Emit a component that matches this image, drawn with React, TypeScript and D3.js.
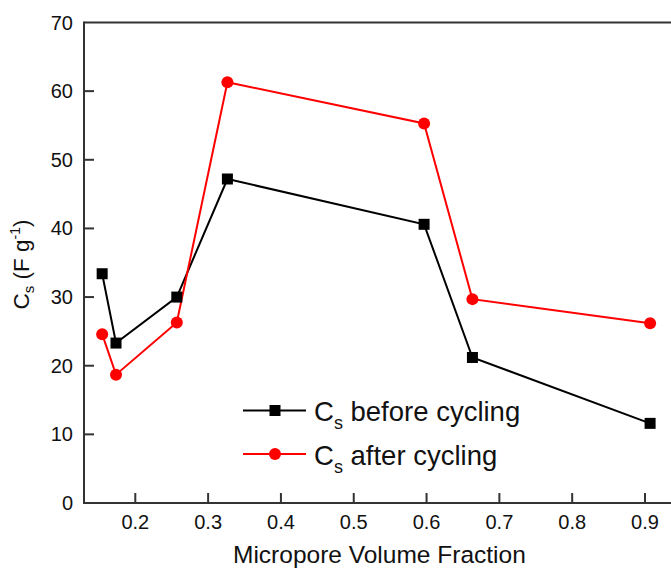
import React from "react";
import * as d3 from "d3";

// Micropore volume fraction of each sample
const fraction = [0.1545, 0.1735, 0.257, 0.3265, 0.5966, 0.663, 0.907];
// Specific capacitance (F g^-1)
const before = [33.4, 23.3, 30.0, 47.2, 40.6, 21.2, 11.6];
const after = [24.6, 18.7, 26.3, 61.3, 55.3, 29.7, 26.2];

const xTicks = [0.2, 0.3, 0.4, 0.5, 0.6, 0.7, 0.8, 0.9];
const yTicks = [0, 10, 20, 30, 40, 50, 60, 70];

const W = 671;
const H = 570;
const FONT = "'Liberation Sans', Arial, Helvetica, sans-serif";

export default function App() {
  const left = 84;
  const top = 22.5;
  const bottom = 503;
  const x = d3.scaleLinear().domain([0.2, 0.9]).range([135.3, 645]);
  const y = d3.scaleLinear().domain([0, 70]).range([bottom, top]);
  const xEnd = x(0.95);

  const line = d3
    .line<number>()
    .x((_, i) => x(fraction[i]))
    .y((d) => y(d));

  const axisColor = "#333";

  return (
    <svg
      width={W}
      height={H}
      style={{ position: "absolute", left: 0, top: 0, background: "#fff" }}
      fontFamily={FONT}
    >
      {/* frame */}
      <line x1={left} y1={top} x2={xEnd} y2={top} stroke={axisColor} strokeWidth={2} />
      <line x1={left} y1={top - 1} x2={left} y2={bottom + 1} stroke={axisColor} strokeWidth={2} />
      <line x1={left - 1} y1={bottom} x2={xEnd} y2={bottom} stroke={axisColor} strokeWidth={2} />

      {/* x ticks */}
      {xTicks.map((t) => (
        <g key={"x" + t}>
          <line x1={x(t)} x2={x(t)} y1={bottom} y2={bottom - 10} stroke={axisColor} strokeWidth={2} />
          <text x={x(t)} y={529} fontSize={20} textAnchor="middle" fill="#111">
            {t.toFixed(1)}
          </text>
        </g>
      ))}

      {/* y ticks */}
      {yTicks.map((t) => (
        <g key={"y" + t}>
          {t > 0 && t < 70 && (
            <line x1={left} x2={left + 10} y1={y(t)} y2={y(t)} stroke={axisColor} strokeWidth={2} />
          )}
          <text x={73} y={y(t) + 7} fontSize={20} textAnchor="end" fill="#111">
            {t}
          </text>
        </g>
      ))}

      {/* axis titles */}
      <text x={233} y={563} fontSize={24.5} fill="#111">
        Micropore Volume Fraction
      </text>
      <text
        transform={`translate(29,${264.5}) rotate(-90)`}
        fontSize={22.5}
        textAnchor="middle"
        fill="#111"
      >
        C<tspan fontSize={15} dy={5}>s</tspan>
        <tspan dy={-5}> (F g</tspan>
        <tspan fontSize={14} dy={-9}>-1</tspan>
        <tspan dy={9}>)</tspan>
      </text>

      {/* series */}
      <path d={line(before) ?? ""} fill="none" stroke="#000" strokeWidth={2} />
      <path d={line(after) ?? ""} fill="none" stroke="#f00" strokeWidth={2} />
      {before.map((v, i) => (
        <rect
          key={"b" + i}
          x={x(fraction[i]) - 5.5}
          y={y(v) - 5.5}
          width={11}
          height={11}
          fill="#000"
        />
      ))}
      {after.map((v, i) => (
        <circle key={"a" + i} cx={x(fraction[i])} cy={y(v)} r={6} fill="#f00" />
      ))}

      {/* legend */}
      <g>
        <line x1={243} x2={306} y1={410.5} y2={410.5} stroke="#000" strokeWidth={2} />
        <rect x={275 - 5.5} y={410.5 - 5.5} width={11} height={11} fill="#000" />
        <text x={314} y={420.5} fontSize={27.5} fill="#111">
          C<tspan fontSize={18} dy={8}>s</tspan>
          <tspan dy={-8}> before cycling</tspan>
        </text>
        <line x1={243} x2={306} y1={454} y2={454} stroke="#f00" strokeWidth={2} />
        <circle cx={275} cy={454} r={6} fill="#f00" />
        <text x={314} y={464.5} fontSize={27.5} fill="#111">
          C<tspan fontSize={18} dy={8}>s</tspan>
          <tspan dy={-8}> after cycling</tspan>
        </text>
      </g>
    </svg>
  );
}
